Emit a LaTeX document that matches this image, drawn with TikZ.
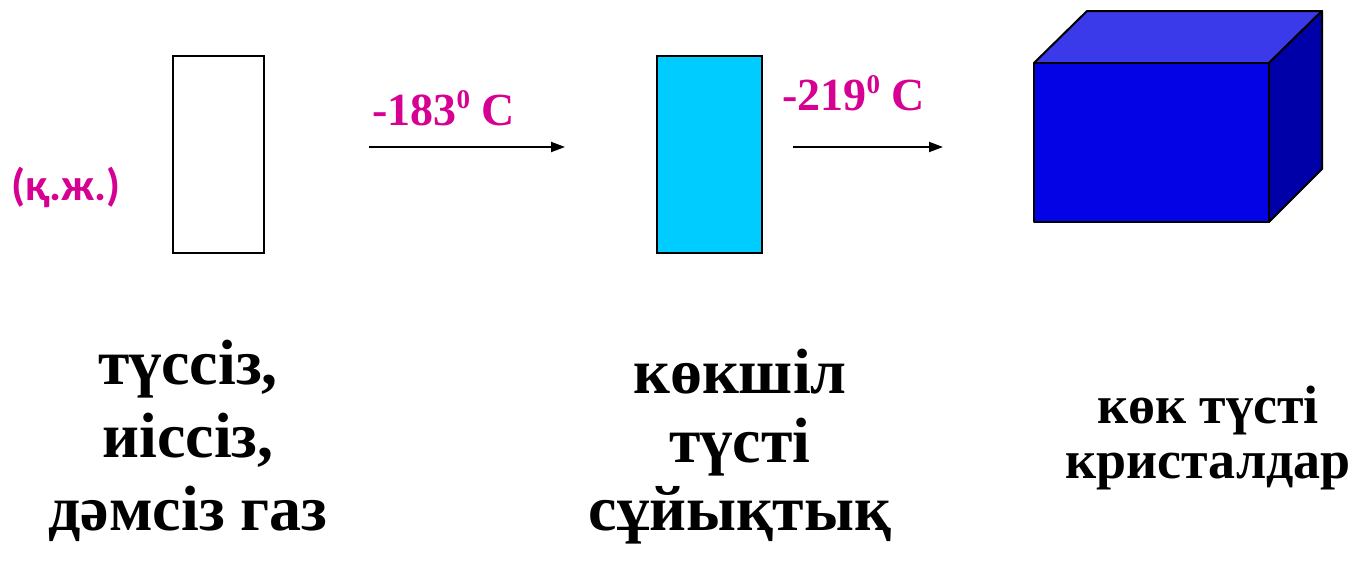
\documentclass[tikz,border=0pt]{standalone}
\usepackage{fontspec}
\setmainfont{Liberation Serif}
\newfontfamily\labelfont{Carlito}
\usetikzlibrary{arrows.meta}
\definecolor{mag}{RGB}{214,0,147}
\definecolor{cyanbox}{RGB}{0,204,255}
\definecolor{cubefront}{RGB}{3,3,230}
\definecolor{cubetop}{RGB}{58,58,235}
\definecolor{cubeside}{RGB}{0,0,168}
\tikzset{
  box/.style={draw=black,line width=2pt,minimum width=91pt,minimum height=197pt,inner sep=0pt,anchor=north west},
  arr/.style={line width=2pt,-{Triangle[length=14pt,width=10pt]}},
  temp/.style={text=mag,font=\fontsize{46}{46}\selectfont\bfseries,inner sep=0pt,anchor=base west},
  bigtxt/.style={font=\fontsize{64}{64}\selectfont\bfseries,inner sep=0pt,anchor=base},
  smalltxt/.style={font=\fontsize{54}{54}\selectfont\bfseries,inner sep=0pt,anchor=base},
  cubeedge/.style={draw=black,line width=2pt,line join=round}
}
\newcommand{\degsup}{{\fontsize{27}{27}\selectfont\raisebox{17pt}{0}}}
\begin{document}
\begin{tikzpicture}[x=1pt,y=-1pt]
\useasboundingbox (0,0) rectangle (1350,562);
% gas
\node[box,fill=white] (gas) at (172,55) {};
\node[text=mag,font=\labelfont\fontsize{45}{45}\selectfont\bfseries,inner sep=0pt] (kzh) at (66,187) {(қ.ж.)};
% liquid
\node[box,fill=cyanbox,minimum width=105pt] (liq) at (656,55) {};
% arrows
\coordinate (a1s) at (369,147);
\coordinate (a1e) at (565,147);
\coordinate (a2s) at (793,147);
\coordinate (a2e) at (943,147);
\draw[arr] (a1s) -- (a1e);
\draw[arr] (a2s) -- (a2e);
\node[temp] (t1) at (372,125) {-183\degsup\ C};
\node[temp] (t2) at (782,110) {-219\degsup\ C};
% cube
\coordinate (f1) at (1034,63);
\coordinate (f2) at (1269,63);
\coordinate (f3) at (1269,222);
\coordinate (f4) at (1034,222);
\coordinate (b1) at (1087,11);
\coordinate (b2) at (1322,11);
\coordinate (b3) at (1322,169);
\filldraw[cubeedge,fill=cubetop] (f1) -- (b1) -- (b2) -- (f2) -- cycle;
\filldraw[cubeedge,fill=cubeside] (f2) -- (b2) -- (b3) -- (f3) -- cycle;
\filldraw[cubeedge,fill=cubefront] (f1) -- (f2) -- (f3) -- (f4) -- cycle;
% texts
\node[bigtxt] (l1) at (188,384) {түссіз,};
\node[bigtxt] (l2) at (188,457) {иіссіз,};
\node[bigtxt] (l3) at (188,530) {дәмсіз газ};
\node[bigtxt] (m1) at (740,393) {көкшіл};
\node[bigtxt] (m2) at (740,462) {түсті};
\node[bigtxt] (m3) at (740,530) {сұйықтық};
\node[smalltxt] (r1) at (1208,423) {көк түсті};
\node[smalltxt] (r2) at (1208,478) {кристалдар};
\end{tikzpicture}
\end{document}
